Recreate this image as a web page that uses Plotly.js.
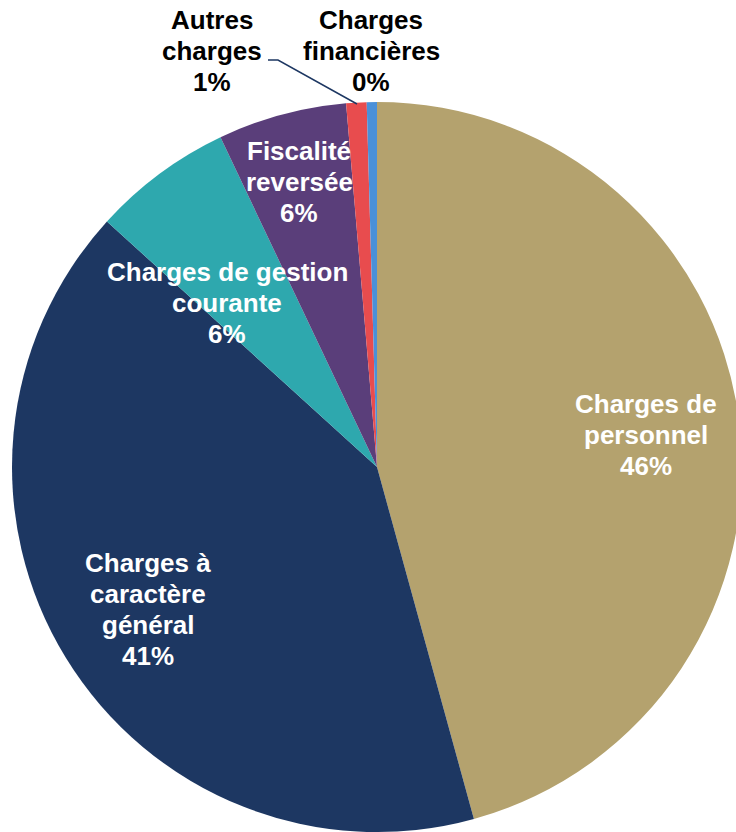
<!DOCTYPE html>
<html><head><meta charset="utf-8">
<script src="https://cdn.plot.ly/plotly-3.0.1.min.js"></script>
<style>html,body{margin:0;padding:0;overflow:hidden;background:#fff}#chart{width:748px;height:832px}</style>
</head><body><div id="chart"></div>
<script>
// Data
var categories = ["Charges de personnel", "Charges à caractère général", "Charges de gestion courante", "Fiscalité reversée", "Autres charges", "Charges financières"];
var values = [45.7, 41.0, 6.2, 5.7, 0.9, 0.45];
var labelLines = [
  ["Charges de", "personnel"],
  ["Charges à", "caractère", "général"],
  ["Charges de gestion", "courante"],
  ["Fiscalité", "reversée"],
  ["Autres", "charges"],
  ["Charges", "financières"]
];
var colors = ["#B4A26E", "#1D3762", "#2EA8AE", "#5A3E7A", "#E84C4E", "#4A90D9"];

// label placement (pixels of first line centre) and colours
var labelPos = [[646, 404], [148, 563], [227, 272], [299, 151], [212, 20], [371, 20]];
var labelColor = ["#fff", "#fff", "#fff", "#fff", "#000", "#000"];

var W = 748, H = 832, mL = 12, mR = 6, mT = 102, mB = 0;
var pw = W - mL - mR, ph = H - mT - mB;
function px2x(p){ return (p - mL) / pw; }
function px2y(p){ return (H - mB - p) / ph; }

var total = values.reduce(function(a,b){return a+b;}, 0);
var annotations = [];
categories.forEach(function(c, i){
  var lines = labelLines[i].concat([Math.round(values[i] / total * 100) + "%"]);
  lines.forEach(function(t, k){
    annotations.push({
      xref: "paper", yref: "paper",
      x: px2x(labelPos[i][0]), y: px2y(labelPos[i][1] + 31 * k),
      xanchor: "center", yanchor: "middle",
      text: "<b>" + t + "</b>", showarrow: false,
      font: {family: "Liberation Sans, Arial, sans-serif", size: 26, color: labelColor[i]}
    });
  });
});

var data = [{
  type: "pie",
  labels: categories,
  values: values,
  sort: false,
  direction: "clockwise",
  rotation: 0,
  textinfo: "none",
  hoverinfo: "label+percent",
  marker: {colors: colors, line: {width: 0}},
  showlegend: false
}];

var layout = {
  width: W, height: H,
  margin: {l: mL, r: mR, t: mT, b: mB, pad: 0},
  paper_bgcolor: "#fff",
  annotations: annotations,
  shapes: [{
    type: "path", xref: "paper", yref: "paper",
    path: "M " + px2x(268) + " " + px2y(60) + " L " + px2x(278) + " " + px2y(60) + " L " + px2x(357) + " " + px2y(104),
    line: {color: "#1D3762", width: 1.5}
  }]
};

Plotly.newPlot("chart", data, layout, {staticPlot: true});
</script></body></html>
